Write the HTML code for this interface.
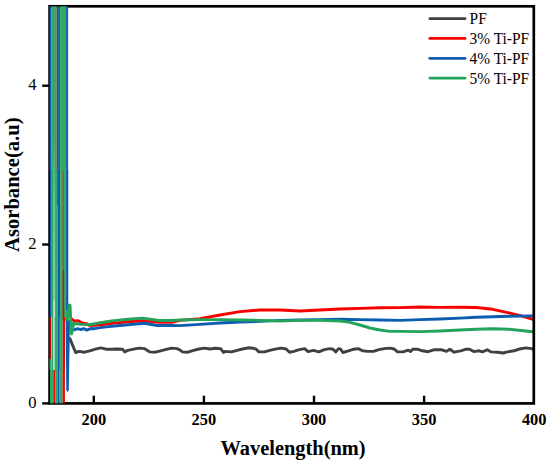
<!DOCTYPE html>
<html><head><meta charset="utf-8"><style>
html,body{margin:0;padding:0;background:#fff;}
svg{display:block;}
text{font-family:"Liberation Serif",serif;fill:#000;}
</style></head><body>
<svg width="550" height="465" viewBox="0 0 550 465">
<defs><linearGradient id="lgg" gradientUnits="userSpaceOnUse" x1="0" y1="130" x2="0" y2="300"><stop offset="0" stop-color="#30aa66"/><stop offset="0.45" stop-color="#6cc694"/><stop offset="1" stop-color="#8ed3a8"/></linearGradient></defs>
<rect width="550" height="465" fill="#fff"/>
<g fill="none" stroke-width="2.9" stroke-linejoin="round" stroke-linecap="round">
<polyline points="69.8,338.5 70.2,339.4 75.6,352.5 78.9,351.4 84.4,352.2 89.8,350.8 95.3,349.2 100.7,347.9 106.2,349.2 111.6,349.2 117.1,349.0 122.5,349.2 124.7,351.9 128.0,350.3 133.5,349.2 138.9,348.1 144.4,348.6 147.1,350.3 149.8,351.9 155.3,352.2 160.7,350.8 166.2,349.4 171.6,348.1 177.1,348.6 180.4,350.3 182.5,351.9 188.0,352.2 193.5,350.3 198.9,349.0 204.4,348.1 209.8,349.0 215.3,348.3 220.7,348.6 223.5,352.5 225.1,351.4 231.6,351.9 237.1,350.3 242.5,349.0 248.0,347.8 253.5,348.3 256.2,349.2 258.9,351.9 264.4,351.9 269.8,350.3 275.3,349.2 280.7,348.1 286.2,349.0 289.5,352.2 293.8,351.4 299.3,349.7 304.7,348.6 308.0,351.6 313.5,350.3 318.9,351.9 324.4,349.7 329.8,348.6 333.1,349.2 335.8,351.9 338.5,348.6 340.7,349.2 342.9,352.5 348.4,350.8 353.8,349.2 358.2,348.6 362.5,350.8 368.0,351.4 373.5,351.4 378.9,349.7 384.4,348.6 389.8,348.1 394.2,349.0 397.5,351.9 402.9,351.9 408.4,350.1 410.5,351.6 412.7,349.2 417.1,349.2 422.5,350.8 428.0,351.7 434.5,349.7 441.1,349.7 446.5,351.4 449.8,349.2 454.2,352.2 460.7,350.8 466.2,349.2 469.5,349.2 473.8,351.6 479.3,350.8 482.4,351.9 487.3,349.7 491.1,351.9 497.6,352.2 503.1,353.0 507.5,351.9 514.0,350.8 519.5,349.0 526.0,347.9 531.5,348.6 533.0,349.2" stroke="#404040"/>
<polyline points="72.2,319.3 74.4,321.0 78.2,320.7 80.9,322.3 83.6,323.1 87.5,324.0 89.1,325.4 95.3,325.3 100.0,324.9 106.2,324.0 117.1,322.9 128.0,321.8 142.7,320.8 159.0,322.3 171.8,322.3 180.0,320.4 200.0,318.6 220.0,315.0 240.0,311.6 260.0,310.0 280.0,310.0 300.0,311.0 320.0,310.0 340.0,309.0 360.0,308.4 380.0,307.8 400.0,307.6 420.0,307.0 440.0,307.4 460.0,307.3 476.4,307.5 492.7,309.3 509.0,312.9 522.2,316.2 533.0,319.3" stroke="#f60000"/>
<polyline points="72.6,329.0 74.9,329.8 77.1,328.7 80.9,329.5 83.6,328.7 86.9,330.1 90.7,328.5 94.5,328.7 100.0,327.6 106.2,326.9 117.1,325.8 128.0,324.7 144.5,323.2 157.3,325.5 171.8,325.5 180.0,325.6 200.0,324.4 220.0,323.0 240.0,322.0 260.0,321.4 280.0,320.4 300.0,320.0 320.0,319.6 340.0,319.2 360.0,319.6 380.0,320.0 400.0,320.4 420.0,319.6 440.0,319.0 460.0,318.1 476.4,317.3 492.7,316.7 509.0,316.2 533.0,315.9" stroke="#0b5db0"/>
<polyline points="73.3,323.5 80.9,324.4 89.1,324.6 94.5,323.8 100.0,322.7 111.6,320.9 128.0,319.3 142.7,318.1 159.1,320.5 171.8,320.5 180.0,320.0 200.0,319.6 220.0,319.6 240.0,320.0 260.0,320.4 280.0,321.0 300.0,320.4 320.0,320.4 340.0,321.0 350.0,322.4 360.0,325.0 370.0,328.0 380.0,330.0 390.0,331.4 400.0,331.4 420.0,331.6 440.0,331.0 460.0,330.0 476.4,329.3 492.7,328.8 509.0,329.3 533.0,331.7" stroke="#22a55a"/>
</g>
<rect x="49.6" y="6.3" width="484.2" height="397.1" fill="none" stroke="#000" stroke-width="2.7"/>
<g><polygon points="65.7,320 70.0,320 69.6,345 69.0,375 68.8,390 67.6,392.3 66.3,390 66.0,360" fill="#0b5db0"/><rect x="49.5" y="6.3" width="2.10" height="163.7" fill="#0b5db0"/><rect x="51.6" y="6.3" width="5.20" height="163.7" fill="#30aa66"/><rect x="56.8" y="6.3" width="1.40" height="163.7" fill="#f60000"/><rect x="58.2" y="6.3" width="1.90" height="163.7" fill="#0b5db0"/><rect x="60.1" y="6.3" width="6.00" height="163.7" fill="#30aa66"/><rect x="66.1" y="6.3" width="2.00" height="163.7" fill="#0b5db0"/><rect x="49.8" y="170" width="1.20" height="147" fill="#0b5db0"/><rect x="51.0" y="170" width="6.60" height="147" fill="#30aa66"/><rect x="53.2" y="130" width="1.90" height="170" fill="url(#lgg)"/><rect x="57.0" y="170" width="1.00" height="35" fill="#b0503a"/><rect x="57.6" y="170" width="2.50" height="147" fill="#0b5db0"/><rect x="60.1" y="170" width="6.40" height="151" fill="#30aa66"/><rect x="62.5" y="170" width="1.50" height="100" fill="#b0503a"/><rect x="62.6" y="270" width="1.50" height="47" fill="#f60000"/><rect x="66.1" y="170" width="2.20" height="141" fill="#0b5db0"/><rect x="66.3" y="311" width="2.20" height="10" fill="#30aa66"/><rect x="49.5" y="317" width="1.30" height="42" fill="#f60000"/><rect x="49.5" y="359" width="1.90" height="11" fill="#30aa66"/><rect x="51.4" y="317" width="1.90" height="53" fill="#30aa66"/><rect x="53.3" y="317" width="1.70" height="53" fill="#a0d8b5"/><rect x="53.2" y="300" width="1.90" height="17" fill="#b8e3c8"/><rect x="55.0" y="317" width="2.90" height="53" fill="#30aa66"/><rect x="57.9" y="317" width="1.90" height="53" fill="#0b5db0"/><rect x="59.8" y="317" width="2.90" height="53" fill="#30aa66"/><rect x="62.7" y="317" width="2.30" height="53" fill="#f60000"/><rect x="50.0" y="370" width="3.30" height="33.39999999999998" fill="#30aa66"/><rect x="53.3" y="370" width="1.90" height="33.39999999999998" fill="#f60000"/><rect x="55.2" y="370" width="2.80" height="33.39999999999998" fill="#30aa66"/><rect x="58.0" y="370" width="1.50" height="33.39999999999998" fill="#0b5db0"/><rect x="59.5" y="370" width="3.10" height="33.39999999999998" fill="#30aa66"/><rect x="62.6" y="370" width="2.30" height="33.39999999999998" fill="#f60000"/></g>
<polyline points="67.4,320.0 68.9,305.3 70.0,305.3 71.6,334.0 73.8,323.2" fill="none" stroke="#22a55a" stroke-width="2.9" stroke-linejoin="round"/>
<g stroke="#000" stroke-width="2.4">
<line x1="42.2" y1="85.7" x2="49.3" y2="85.7"/>
<line x1="42.2" y1="244.5" x2="49.3" y2="244.5"/>
<line x1="42.2" y1="403.4" x2="49.3" y2="403.4"/>
<line x1="93.8" y1="395.7" x2="93.8" y2="403.4"/>
<line x1="203.9" y1="395.7" x2="203.9" y2="403.4"/>
<line x1="314.0" y1="395.7" x2="314.0" y2="403.4"/>
<line x1="424.1" y1="395.7" x2="424.1" y2="403.4"/>
</g>
<g font-size="16.6" text-anchor="end">
<text x="36.6" y="90.4">4</text>
<text x="36.6" y="249.3">2</text>
<text x="36.6" y="408.4">0</text>
</g>
<g font-size="16.4" font-weight="bold" text-anchor="middle">
<text x="93.8" y="424.8">200</text>
<text x="203.9" y="424.8">250</text>
<text x="314.0" y="424.8">300</text>
<text x="424.1" y="424.8">350</text>
<text x="534.2" y="424.8">400</text>
</g>
<text x="220.6" y="455.3" font-size="20.4" font-weight="bold">Wavelength(nm)</text>
<text transform="translate(19,184.7) rotate(-90)" font-size="20.6" font-weight="bold" text-anchor="middle">Asorbance(a.u)</text>
<g stroke-width="2.7" stroke-linecap="round">
<line x1="429.8" y1="18.6" x2="465.1" y2="18.6" stroke="#404040"/>
<line x1="429.8" y1="38.4" x2="465.1" y2="38.4" stroke="#f60000"/>
<line x1="429.8" y1="58.3" x2="465.1" y2="58.3" stroke="#0b5db0"/>
<line x1="429.8" y1="78.1" x2="465.1" y2="78.1" stroke="#22a55a"/>
</g>
<g font-size="15.4">
<text transform="translate(469.6,24.1) scale(1,1.07)">PF</text>
<text transform="translate(469.6,43.9) scale(1,1.07)">3% Ti-PF</text>
<text transform="translate(469.6,63.8) scale(1,1.07)">4% Ti-PF</text>
<text transform="translate(469.6,83.6) scale(1,1.07)">5% Ti-PF</text>
</g>
</svg>
</body></html>
